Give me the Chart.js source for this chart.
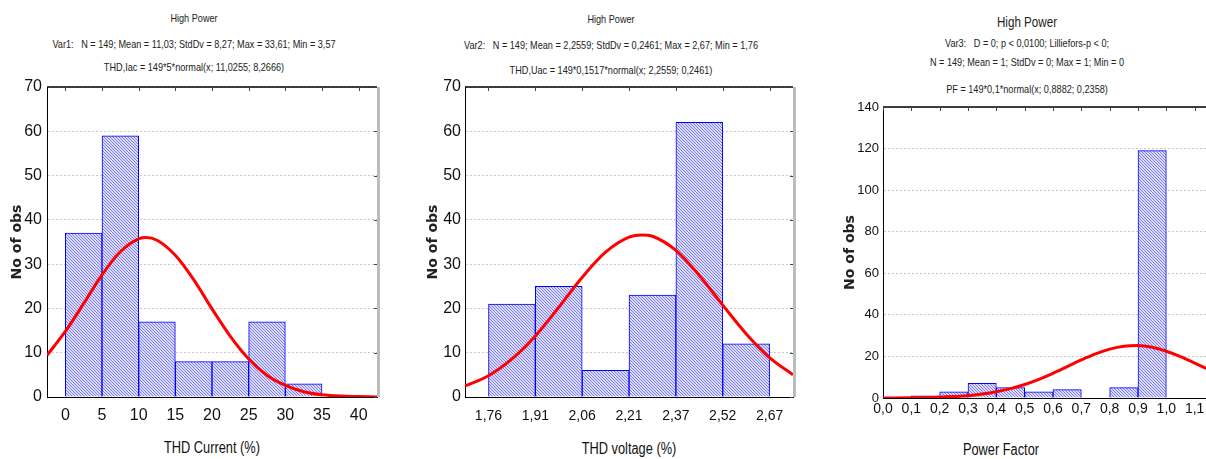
<!DOCTYPE html>
<html>
<head>
<meta charset="utf-8">
<script src="https://cdn.jsdelivr.net/npm/chart.js@4.4.1/dist/chart.umd.min.js"></script>
<style>
  html, body { margin: 0; padding: 0; background: #fff; overflow: hidden; }
  body { width: 1206px; height: 459px; position: relative; }
  canvas { position: absolute; top: 0; }
  .hd { position: absolute; transform: translate(-50%, -50%) scaleX(0.83); white-space: pre; color: #222;
        font-family: 'Liberation Sans', sans-serif; font-size: 11px; }
  .ax { font-size: 16px; color: #111; transform: translate(-50%, -50%) scaleX(0.8); }
</style>
</head>
<body>
<div class="hd" style="left:194px;top:18px">High Power</div>
<div class="hd" style="left:194px;top:44px">Var1:   N = 149; Mean = 11,03; StdDv = 8,27; Max = 33,61; Min = 3,57</div>
<div class="hd" style="left:194px;top:67px">THD,Iac = 149*5*normal(x; 11,0255; 8,2666)</div>

<div class="hd" style="left:611px;top:19px">High Power</div>
<div class="hd" style="left:611px;top:45px">Var2:   N = 149; Mean = 2,2559; StdDv = 0,2461; Max = 2,67; Min = 1,76</div>
<div class="hd" style="left:611px;top:70px">THD,Uac = 149*0,1517*normal(x; 2,2559; 0,2461)</div>

<div class="hd" style="left:1027px;top:22px;font-size:14px">High Power</div>
<div class="hd" style="left:1027px;top:43px">Var3:   D = 0; p &lt; 0,0100; Lilliefors-p &lt; 0;</div>
<div class="hd" style="left:1027px;top:62px">N = 149; Mean = 1; StdDv = 0; Max = 1; Min = 0</div>
<div class="hd" style="left:1027px;top:89px">PF = 149*0,1*normal(x; 0,8882; 0,2358)</div>

<div class="hd ax" style="left:212px;top:448px">THD Current (%)</div>
<div class="hd ax" style="left:629px;top:449px">THD voltage (%)</div>
<div class="hd ax" style="left:1001px;top:450px">Power Factor</div>

<canvas id="c1" width="400" height="459" style="left:0px"></canvas>
<canvas id="c2" width="400" height="459" style="left:420px"></canvas>
<canvas id="c3" width="390" height="459" style="left:840px"></canvas>

<script>
// THD current histogram
const curBins = [2.5, 7.5, 12.5, 17.5, 22.5, 27.5, 32.5];
const curCounts = [37, 59, 17, 8, 8, 17, 3];
const curTicks = [0, 5, 10, 15, 20, 25, 30, 35, 40];
const curFitX = [-2.5, 0, 2.5, 5, 7.5, 10, 11, 12.5, 15, 17.5, 20, 22.5, 25, 27.5, 30, 32.5, 35, 37.5, 40, 42.5];
const curFitY = [9.4, 14.8, 21.1, 27.6, 32.8, 35.7, 36.0, 35.4, 32.0, 26.5, 19.9, 13.7, 8.6, 4.9, 2.6, 1.2, 0.5, 0.2, 0.1, 0.0];

// THD voltage histogram
const voltEdges = [1.76, 1.9117, 2.0634, 2.2151, 2.3668, 2.5185, 2.6702];
const voltTickLabels = ["1,76", "1,91", "2,06", "2,21", "2,37", "2,52", "2,67"];
const voltBins = [1.8359, 1.9876, 2.1393, 2.291, 2.4427, 2.5944];
const voltCounts = [21, 25, 6, 23, 62, 12];
const voltFitX = [1.684, 1.76, 1.836, 1.912, 1.987, 2.063, 2.139, 2.215, 2.256, 2.291, 2.367, 2.442, 2.518, 2.594, 2.67, 2.746];
const voltFitY = [2.5, 4.8, 8.6, 13.8, 20.2, 27.0, 32.7, 36.1, 36.6, 36.3, 33.1, 27.5, 20.8, 14.3, 8.9, 5.0];

// power factor histogram
const pfBins = [0.05, 0.15, 0.25, 0.35, 0.45, 0.55, 0.65, 0.75, 0.85, 0.95];
const pfCounts = [0, 1, 3, 7, 5, 3, 4, 0, 5, 119];
const pfTicks = [0, 0.1, 0.2, 0.3, 0.4, 0.5, 0.6, 0.7, 0.8, 0.9, 1.0, 1.1];
const pfTickLabels = ["0,0", "0,1", "0,2", "0,3", "0,4", "0,5", "0,6", "0,7", "0,8", "0,9", "1,0", "1,1"];
const pfFitX = [0, 0.1, 0.2, 0.25, 0.3, 0.35, 0.4, 0.45, 0.5, 0.55, 0.6, 0.65, 0.7, 0.75, 0.8, 0.85, 0.9, 0.95, 1.0, 1.05, 1.1, 1.15, 1.2];
const pfFitY = [0.0, 0.1, 0.4, 0.7, 1.1, 1.9, 3.0, 4.5, 6.5, 9.0, 11.9, 15.1, 18.3, 21.2, 23.5, 24.9, 25.2, 24.4, 22.5, 19.9, 16.8, 13.6, 10.5];

const sans = "'Liberation Sans', sans-serif";

// diagonal hatch fill for the bars
function hatch() {
  const p = document.createElement("canvas");
  p.width = 3; p.height = 3;
  const c = p.getContext("2d");
  c.fillStyle = "#dcdcfc";
  c.fillRect(0, 0, 3, 3);
  c.fillStyle = "#7b7bf2";
  for (let i = 0; i < 3; i++) c.fillRect(i, i, 1, 1);
  return c.createPattern(p, "repeat");
}

// top border, grey right border and small inward ticks
const frame = {
  id: "frame",
  afterDatasetsDraw(chart) {
    const { ctx, chartArea: a, scales: { x, y } } = chart;
    ctx.save();
    ctx.strokeStyle = "#000";
    ctx.lineWidth = 1.5;
    ctx.beginPath();
    ctx.moveTo(a.left, a.top);
    ctx.lineTo(a.right, a.top);
    ctx.stroke();
    ctx.strokeStyle = "#bcbcbc";
    ctx.lineWidth = 3;
    ctx.beginPath();
    ctx.moveTo(a.right + 1.5, a.top);
    ctx.lineTo(a.right + 1.5, a.bottom);
    ctx.stroke();
    ctx.strokeStyle = "#444";
    ctx.lineWidth = 1;
    x.ticks.forEach((t) => {
      const px = Math.round(x.getPixelForValue(t.value)) + 0.5;
      ctx.beginPath();
      ctx.moveTo(px, a.top);
      ctx.lineTo(px, a.top + 4);
      ctx.stroke();
    });
    y.ticks.forEach((t) => {
      const py = Math.round(y.getPixelForValue(t.value)) + 0.5;
      ctx.beginPath();
      ctx.moveTo(a.right, py);
      ctx.lineTo(a.right - 3, py);
      ctx.stroke();
    });
    ctx.restore();
  },
};

function histogram(id, o) {
  const bars = o.bins.map((b, i) => ({ x: b, y: o.counts[i] }));
  const fit = o.fitX.map((v, i) => ({ x: v, y: o.fitY[i] }));
  return new Chart(document.getElementById(id), {
    type: "bar",
    data: {
      datasets: [
        {
          type: "line",
          data: fit,
          borderColor: "#ff0000",
          borderWidth: 3,
          pointRadius: 0,
          cubicInterpolationMode: "monotone",
          order: 0,
        },
        {
          data: bars,
          backgroundColor: hatch(),
          borderColor: "#0000ff",
          borderWidth: 1,
          barPercentage: 1,
          categoryPercentage: 1,
          order: 1,
        },
      ],
    },
    options: {
      responsive: false,
      animation: false,
      layout: { padding: { top: o.top, right: o.right, left: 0, bottom: 0 } },
      plugins: { legend: { display: false }, tooltip: { enabled: false } },
      scales: {
        x: {
          type: "linear",
          min: o.xMin,
          max: o.xMax,
          offset: false,
          afterBuildTicks: (s) => { s.ticks = o.ticks.map((v) => ({ value: v })); },
          afterFit: (s) => { s.height = o.xHeight; },
          grid: { display: false, drawTicks: false },
          border: { display: true, color: "#000", width: 1 },
          ticks: {
            padding: o.xPad,
            color: "#111",
            font: { family: sans, size: o.xFont },
            maxRotation: 0,
            autoSkip: false,
            callback: (v, i) => o.tickLabels[i],
          },
        },
        y: {
          min: 0,
          max: o.yMax,
          afterFit: (s) => { s.width = o.yWidth; },
          grid: { color: "#c8c8c8", drawTicks: false },
          border: { display: true, color: "#000", width: 1, dash: [2, 2] },
          ticks: {
            stepSize: o.yStep,
            padding: o.yPad,
            color: "#111",
            font: { family: sans, size: o.yFont },
          },
          title: {
            display: true,
            text: "No of obs",
            color: "#222",
            font: { family: "'DejaVu Sans', sans-serif", size: 14, weight: "bold" },
            padding: { top: o.yTitlePad, bottom: 0 },
          },
        },
      },
    },
    plugins: [frame],
  });
}

histogram("c1", {
  bins: curBins, counts: curCounts, fitX: curFitX, fitY: curFitY,
  ticks: curTicks, tickLabels: curTicks.map(String),
  xMin: -2.5, xMax: 42.5, yMax: 70, yStep: 10,
  top: 87, right: 23, xHeight: 62, yWidth: 47,
  xPad: 9, xFont: 16, yPad: 5, yFont: 16, yTitlePad: 9,
});

histogram("c2", {
  bins: voltBins, counts: voltCounts, fitX: voltFitX, fitY: voltFitY,
  ticks: voltEdges, tickLabels: voltTickLabels,
  xMin: 1.684, xMax: 2.746, yMax: 70, yStep: 10,
  top: 87, right: 27, xHeight: 62, yWidth: 45,
  xPad: 11, xFont: 14, yPad: 4, yFont: 16, yTitlePad: 5,
});

histogram("c3", {
  bins: pfBins, counts: pfCounts, fitX: pfFitX, fitY: pfFitY,
  ticks: pfTicks, tickLabels: pfTickLabels,
  xMin: 0, xMax: 1.2, yMax: 140, yStep: 20,
  top: 107, right: 7, xHeight: 61, yWidth: 43,
  xPad: 3, xFont: 14, yPad: 4, yFont: 13, yTitlePad: 2,
});
</script>
</body>
</html>
